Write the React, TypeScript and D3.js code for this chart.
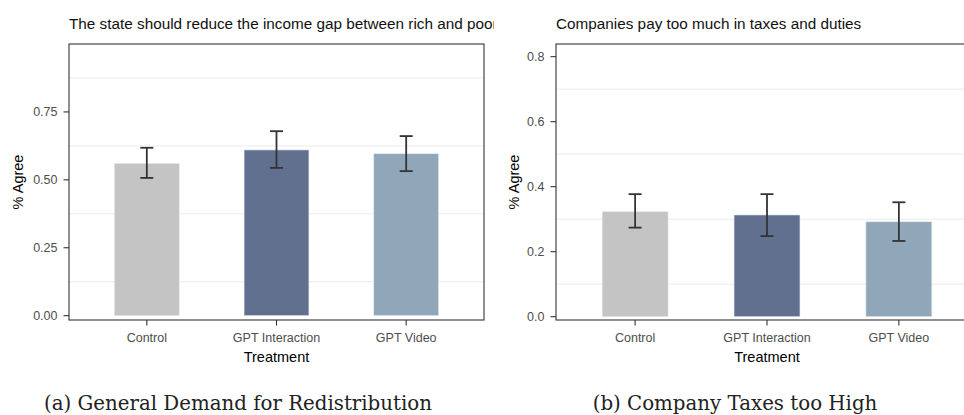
import React from "react";
import * as d3 from "d3";

const categories = ["Control", "GPT Interaction", "GPT Video"];
const barColors = ["#c4c4c4", "#61708f", "#90a7ba"];

const redistMeans = [0.56, 0.61, 0.596];
const redistLow = [0.507, 0.544, 0.532];
const redistHigh = [0.618, 0.679, 0.661];
const redistTicks = [0, 0.25, 0.5, 0.75];
const redistMinor = [0.125, 0.375, 0.625, 0.875];

const taxMeans = [0.323, 0.313, 0.292];
const taxLow = [0.274, 0.248, 0.233];
const taxHigh = [0.377, 0.377, 0.352];
const taxTicks = [0, 0.2, 0.4, 0.6, 0.8];
const taxMinor = [0.1, 0.3, 0.5, 0.7];

const W = 964;
const H = 415;
const SANS = "Liberation Sans, Arial, Helvetica, sans-serif";

type PanelProps = {
  id: string;
  title: string;
  left: number;
  right: number;
  domain: [number, number];
  means: number[];
  lows: number[];
  highs: number[];
  ticks: number[];
  minor: number[];
  fmt: (v: number) => string;
  clipRight: number;
  caption: string;
  captionX: number;
  yTitleX: number;
};

const TOP = 44;
const BOTTOM = 320;

function Panel(p: PanelProps) {
  const x = d3.scalePoint<string>().domain(categories).range([p.left, p.right]).padding(0.6);
  const y = d3.scaleLinear().domain(p.domain).range([BOTTOM, TOP]);
  const bw = x.step() * 0.5;
  const cap = 13;
  const clipId = "clip-" + p.id;
  const midX = (p.left + p.right) / 2;
  return (
    <g>
      <defs>
        <clipPath id={clipId}>
          <rect x={0} y={0} width={p.clipRight} height={H} />
        </clipPath>
      </defs>
      <g clipPath={`url(#${clipId})`}>
        <text x={p.left} y={29} fontSize={15.3} fill="#111" fontFamily={SANS}>
          {p.title}
        </text>
        <rect x={p.left} y={TOP} width={p.right - p.left} height={BOTTOM - TOP} fill="#fff" />
        {p.minor.map((v) => (
          <line key={"m" + v} x1={p.left} x2={p.right} y1={y(v)} y2={y(v)} stroke="#ececec" strokeWidth={1} />
        ))}
        {categories.map((c, i) => (
          <rect
            key={c}
            x={(x(c) as number) - bw / 2}
            y={y(p.means[i])}
            width={bw}
            height={y(0) - y(p.means[i])}
            fill={barColors[i]}
            stroke="#e4e8ee"
            strokeWidth={0.6}
          />
        ))}
        {categories.map((c, i) => {
          const cx = x(c) as number;
          return (
            <g key={"e" + c} stroke="#333" strokeWidth={1.8}>
              <line x1={cx} x2={cx} y1={y(p.highs[i])} y2={y(p.lows[i])} />
              <line x1={cx - cap / 2} x2={cx + cap / 2} y1={y(p.highs[i])} y2={y(p.highs[i])} />
              <line x1={cx - cap / 2} x2={cx + cap / 2} y1={y(p.lows[i])} y2={y(p.lows[i])} />
            </g>
          );
        })}
        <rect x={p.left} y={TOP} width={p.right - p.left} height={BOTTOM - TOP} fill="none" stroke="#333" strokeWidth={1.1} />
        {p.ticks.map((v) => (
          <g key={"t" + v}>
            <line x1={p.left - 5.5} x2={p.left} y1={y(v)} y2={y(v)} stroke="#333" strokeWidth={1.1} />
            <text
              x={p.left - 11.5}
              y={y(v)}
              dy="0.35em"
              textAnchor="end"
              fontSize={12.5}
              fill="#4d4d4d"
              fontFamily={SANS}
            >
              {p.fmt(v)}
            </text>
          </g>
        ))}
        {categories.map((c) => (
          <g key={"x" + c}>
            <line x1={x(c) as number} x2={x(c) as number} y1={BOTTOM} y2={BOTTOM + 5.5} stroke="#333" strokeWidth={1.1} />
            <text
              x={x(c) as number}
              y={342}
              textAnchor="middle"
              fontSize={12.5}
              fill="#4d4d4d"
              fontFamily={SANS}
            >
              {c}
            </text>
          </g>
        ))}
        <text x={midX} y={362} textAnchor="middle" fontSize={14.5} fill="#000" fontFamily={SANS}>
          Treatment
        </text>
        <text
          transform={`translate(${p.yTitleX},${(TOP + BOTTOM) / 2}) rotate(-90)`}
          textAnchor="middle"
          dy="0.35em"
          fontSize={14.5}
          fill="#000"
          fontFamily={SANS}
        >
          % Agree
        </text>
      </g>
      <text
        x={p.captionX}
        y={410}
        textAnchor="middle"
        fontSize={19.8}
        fill="#222"
        fontFamily="DejaVu Serif, Georgia, serif"
      >
        {p.caption}
      </text>
    </g>
  );
}

export default function App() {
  return (
    <svg width={W} height={H} style={{ position: "absolute", left: 0, top: 0, background: "#fff" }}>
      <rect x={0} y={0} width={W} height={H} fill="#fff" />
      <Panel
        id="a"
        title="The state should reduce the income gap between rich and poor"
        left={69}
        right={484}
        domain={[-0.016, 1.0]}
        means={redistMeans}
        lows={redistLow}
        highs={redistHigh}
        ticks={redistTicks}
        minor={redistMinor}
        fmt={(v) => d3.format(".2f")(v)}
        clipRight={494}
        caption="(a) General Demand for Redistribution"
        captionX={238}
        yTitleX={18}
      />
      <Panel
        id="b"
        title="Companies pay too much in taxes and duties"
        left={556}
        right={978}
        domain={[-0.0102, 0.839]}
        means={taxMeans}
        lows={taxLow}
        highs={taxHigh}
        ticks={taxTicks}
        minor={taxMinor}
        fmt={(v) => d3.format(".1f")(v)}
        clipRight={W}
        caption="(b) Company Taxes too High"
        captionX={735}
        yTitleX={514}
      />
    </svg>
  );
}
